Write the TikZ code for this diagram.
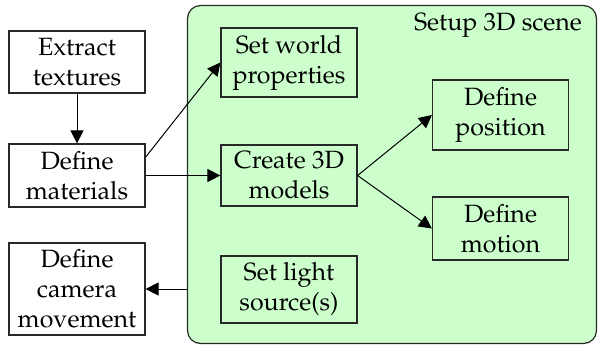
\documentclass[tikz,border=0pt]{standalone}
\usepackage[T1]{fontenc}
\usepackage{mathpazo}
\usepackage{xcolor}
\usetikzlibrary{arrows.meta, positioning}
\definecolor{scenegreen}{RGB}{204, 255, 204}
\definecolor{edgegray}{RGB}{40, 40, 40}

\begin{document}
\begin{tikzpicture}[
  x=0.5pt, y=0.5pt,
  >={Triangle[length=6.5pt, width=6.5pt]},
  stage/.style={
    rectangle, draw=edgegray, line width=0.6pt,
    minimum width=68pt, minimum height=#1, inner sep=2pt,
    font=\fontsize{12.5}{15}\selectfont, align=center
  },
  stage/.default=31pt,
  scene/.style={
    rectangle, rounded corners=6.5pt, draw=edgegray, fill=scenegreen,
    line width=0.6pt, minimum width=204.5pt, minimum height=169pt, inner sep=0pt
  },
  link/.style={->, draw=black, line width=0.5pt},
]

\useasboundingbox (0, 0) rectangle (598, 345);

\def\colA{77}
\def\colB{289}
\def\colC{500.5}

% Scene container
\node[scene] (scene) at (392, 170.5) {};
\node[font=\fontsize{12.5}{15}\selectfont] (sceneT) at (498, 320) {Setup 3D scene};

% Left column
\node[stage=31pt]   (tex) at (\colA, 283)   {Extract\\textures};
\node[stage=31.5pt] (mat) at (\colA, 169.5) {Define\\materials};
\node[stage=46pt]   (cam) at (\colA, 56)    {Define\\camera\\movement};

% Inside the scene
\node[stage=34.5pt] (world)  at (\colB, 282.5) {Set world\\properties};
\node[stage=30.5pt] (models) at (\colB, 169.5) {Create 3D\\models};
\node[stage=33.5pt] (light)  at (\colB, 55.5)  {Set light\\source(s)};
\node[stage=35pt]   (pos)    at (\colC, 230)   {Define\\position};
\node[stage=31.5pt] (motion) at (\colC, 116.5) {Define\\motion};

% Connectors
\draw[link] (tex) -- (mat);
\draw[link] (mat.15) -- (world.west);
\draw[link] (mat) -- (models);
\draw[link] (models.east) -- (pos.west);
\draw[link] (models.east) -- (motion.west);
\draw[link] (scene.west |- cam.east) -- (cam.east);

\end{tikzpicture}
\end{document}
